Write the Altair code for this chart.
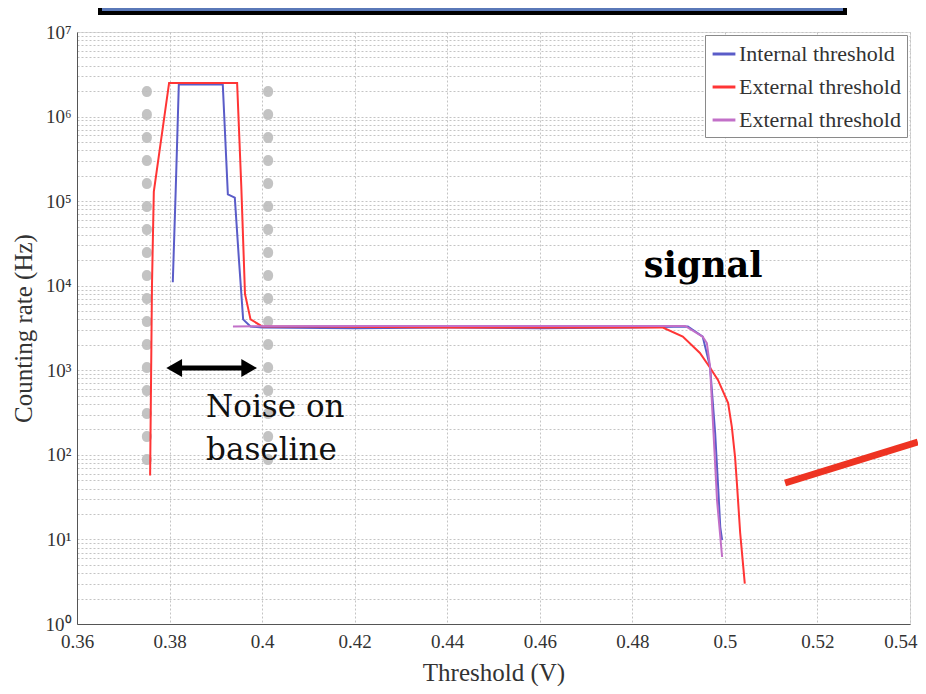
import altair as alt
import pandas as pd

# ---------------- data ----------------
series_keys = ["int", "ext1", "ext2"]
series_labels = ["Internal threshold", "External threshold", "External threshold"]
series_colors = ["#5a5cc8", "#ff3535", "#c270c8"]

int_x = [0.3807, 0.3813, 0.3818, 0.3820, 0.3915, 0.3926, 0.3941, 0.3950, 0.3959, 0.3975, 0.4000,
         0.4200, 0.4400, 0.4600, 0.4800, 0.4920, 0.4952, 0.4968, 0.4979, 0.4985, 0.4990, 0.4994]
int_y = [1.1e4, 1.2e5, 1.0e6, 2.4e6, 2.4e6, 1.2e5, 1.1e5, 2.0e4, 4.0e3, 3.3e3, 3.2e3,
         3.15e3, 3.2e3, 3.15e3, 3.2e3, 3.3e3, 2.5e3, 1.1e3, 180, 46, 14, 9.8]

ext1_x = [0.3758, 0.3762, 0.3766, 0.3799, 0.3946, 0.3955, 0.3963, 0.3975, 0.4000, 0.4100,
          0.4400, 0.4700, 0.4866, 0.4909, 0.4946, 0.4968, 0.4985, 0.5007, 0.5015, 0.5022,
          0.5026, 0.5033, 0.5043]
ext1_y = [57, 1.0e4, 1.3e5, 2.5e6, 2.5e6, 1.5e5, 8.0e3, 4.0e3, 3.3e3, 3.3e3,
          3.2e3, 3.2e3, 3.2e3, 2.5e3, 1.6e3, 1.07e3, 770, 410, 214, 94,
          46, 12, 3]

ext2_x = [0.3937, 0.4200, 0.4500, 0.4800, 0.4914, 0.4952, 0.4961, 0.4968, 0.4975, 0.4983, 0.4994]
ext2_y = [3.3e3, 3.35e3, 3.35e3, 3.35e3, 3.35e3, 2.5e3, 2.1e3, 1.1e3, 200, 29, 6.2]

x_ticks = [0.36, 0.38, 0.40, 0.42, 0.44, 0.46, 0.48, 0.50, 0.52, 0.54]
y_ticks = [m * 10 ** k for k in range(7) for m in range(1, 10)] + [1e7]

# annotations (data coordinates)
noise_lines_x = [0.3751, 0.4013]
noise_lines_y1 = [2.0e6, 2.0e6]
noise_lines_y2 = [66, 66]
arrow_x = [0.3810, 0.3972]
arrow_y = [1065, 1065]
pointer_x = [0.5130, 0.5417]
pointer_y = [46.5, 142]

# ---------------- build ----------------
rows = []
for key, xs, ys in [("int", int_x, int_y), ("ext1", ext1_x, ext1_y), ("ext2", ext2_x, ext2_y)]:
    for i, (a, b) in enumerate(zip(xs, ys)):
        rows.append({"series": key, "x": a, "y": b, "order": i})
df = pd.DataFrame(rows)

SERIF = "Liberation Serif"

x_scale = alt.Scale(domain=[0.36, 0.54], zero=False, nice=False)
y_scale = alt.Scale(type="log", domain=[1, 1e7], nice=False)

x_axis = alt.Axis(values=x_ticks, format=".2~f", title="Threshold (V)", grid=True,
                  gridColor="#c4c4c4", gridDash=[2, 2], ticks=False, labelPadding=8,
                  labelFont=SERIF, labelFontSize=19, labelColor="#333",
                  labelAlign=alt.condition("datum.value > 0.535", alt.value("right"), alt.value("center")),
                  labelOffset=alt.condition("datum.value > 0.535", alt.value(7), alt.value(0)),
                  titleFont=SERIF, titleFontSize=25, titleFontWeight="normal",
                  titleColor="#333", titlePadding=9, domainColor="#555",
                  labelFlush=False, labelOverlap=False)
label_expr = ("abs(log(datum.value)/LN10 - round(log(datum.value)/LN10)) < 0.001 ? "
              "'10' + ['\u2070','\u00b9','\u00b2','\u00b3','\u2074','\u2075','\u2076','\u2077']"
              "[round(log(datum.value)/LN10)] : ''")
y_axis = alt.Axis(values=y_ticks, labelExpr=label_expr, title="Counting rate (Hz)", grid=True,
                  gridColor="#c4c4c4", gridDash=[2, 2], ticks=False, labelPadding=6,
                  labelFont=SERIF, labelFontSize=19, labelColor="#333",
                  titleFont=SERIF, titleFontSize=25, titleFontWeight="normal",
                  titleColor="#333", titlePadding=9, domainColor="#555",
                  labelFlush=False, labelOverlap=False)


def X(field):
    return alt.X(f"{field}:Q", scale=x_scale, axis=x_axis)


def Y(field):
    return alt.Y(f"{field}:Q", scale=y_scale, axis=y_axis)


legend_expr = "datum.value == 'int' ? 'Internal threshold' : 'External threshold'"

lines = alt.Chart(df).mark_line(strokeWidth=2, clip=True).encode(
    x=X("x"), y=Y("y"),
    color=alt.Color("series:N",
                    scale=alt.Scale(domain=series_keys, range=series_colors),
                    legend=alt.Legend(title=None, orient="top-right", offset=3,
                                      labelExpr=legend_expr, labelFont=SERIF,
                                      labelFontSize=22, labelColor="#333", labelLimit=400,
                                      symbolType="stroke", symbolSize=520,
                                      symbolStrokeWidth=3, rowPadding=9,
                                      padding=6, fillColor="white",
                                      strokeColor="#8a8a8a", labelOffset=2)),
    order="order:Q",
)

top_box = alt.Chart(pd.DataFrame({"a": [0]})).mark_rect(
    fill="#5a78b8", stroke="black", strokeWidth=4, clip=False
).encode(x=alt.value(23), x2=alt.value(768), y=alt.value(-34), y2=alt.value(-19))

noise_df = pd.DataFrame({"x": noise_lines_x, "y1": noise_lines_y1, "y2": noise_lines_y2})
noise_rules = alt.Chart(noise_df).mark_rule(
    color="#bdbdbd", strokeWidth=10, strokeDash=[1, 22], strokeCap="round", opacity=0.9
).encode(x=X("x"), y=Y("y1"), y2="y2:Q")

arrow_df = pd.DataFrame({"x": arrow_x, "y": arrow_y})
arrow_shaft = alt.Chart(arrow_df).mark_line(color="black", strokeWidth=5).encode(
    x=X("x"), y=Y("y"))
arrow_heads = alt.Chart(pd.DataFrame({"x": arrow_x, "y": arrow_y,
                                      "shape": ["triangle-left", "triangle-right"]})).mark_point(
    filled=True, color="black", size=330, opacity=1
).encode(x=X("x"), y=Y("y"), shape=alt.Shape("shape:N", scale=None))

text_df = pd.DataFrame({"x": [0.4953], "y": [1.27e4], "t": ["signal"]})
signal_text = alt.Chart(text_df).mark_text(
    font="DejaVu Serif", fontSize=35, fontWeight="bold", color="black",
    align="center", baseline="alphabetic"
).encode(x=X("x"), y=Y("y"), text="t:N")

noise_text_df = pd.DataFrame({"x": [0.3879], "y": [280], "t": ["Noise on\nbaseline"]})
noise_text = alt.Chart(noise_text_df).mark_text(
    font="DejaVu Serif", fontSize=31, color="#111", align="left",
    baseline="alphabetic", lineBreak="\n", lineHeight=43
).encode(x=X("x"), y=Y("y"), text="t:N")

pointer_df = pd.DataFrame({"x": pointer_x, "y": pointer_y})
pointer = alt.Chart(pointer_df).mark_line(
    color="#ee3322", strokeWidth=7, clip=False
).encode(x=X("x"), y=Y("y"))

chart = alt.layer(
    top_box, noise_rules, lines, arrow_shaft, arrow_heads, signal_text, noise_text, pointer
).properties(
    width=833, height=592,
    autosize=alt.AutoSizeParams(type="none"),
    padding={"left": 69, "top": 24, "right": 8, "bottom": 62},
).configure_view(stroke="#888", strokeWidth=1).configure(
    background="white"
).configure_axis(
    labelFont=SERIF, titleFont=SERIF
).configure_legend(labelFont=SERIF)

chart.save("out.html", embed_options={"renderer": "svg", "actions": False})
